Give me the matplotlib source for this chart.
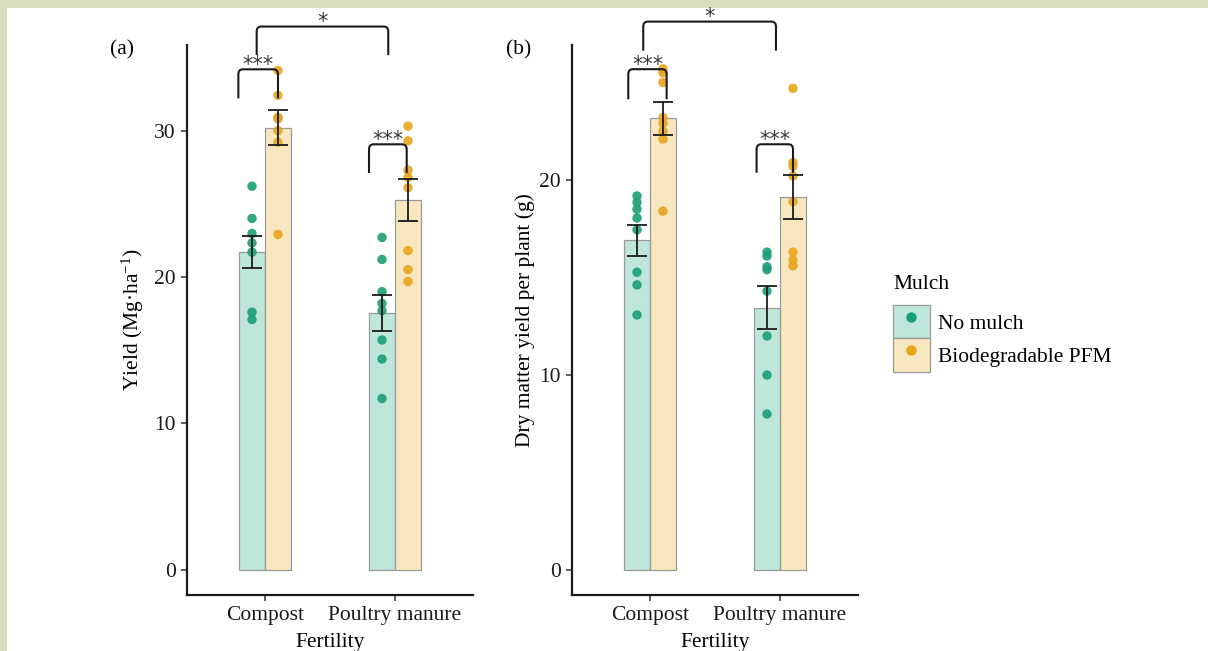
import matplotlib
matplotlib.use("Agg")
import matplotlib.pyplot as plt
import numpy as np
from matplotlib.patches import Rectangle, Patch, PathPatch
from matplotlib.lines import Line2D
from matplotlib.path import Path
from matplotlib.legend_handler import HandlerTuple

plt.rcParams['font.family'] = ['Liberation Serif', 'DejaVu Serif']
plt.rcParams['mathtext.fontset'] = 'custom'
plt.rcParams['mathtext.rm'] = 'Liberation Serif'
plt.rcParams['mathtext.it'] = 'Liberation Serif:italic'

# ---- data ----------------------------------------------------------------
fertility = ["Compost", "Poultry manure"]
mulch = ["No mulch", "Biodegradable PFM"]

# (a) Yield, Mg/ha : group means, standard errors and plot observations
yield_mean_nomulch = [21.7, 17.55]
yield_mean_pfm = [30.2, 25.25]
yield_se_nomulch = [1.1, 1.25]
yield_se_pfm = [1.2, 1.45]
yield_obs_compost_nomulch = [26.2, 24.0, 22.97, 22.33, 21.7, 17.6, 17.1]
yield_obs_compost_pfm = [34.1, 32.4, 30.9, 30.8, 30.0, 29.2, 22.9]
yield_obs_poultry_nomulch = [22.7, 21.2, 19.0, 18.2, 17.7, 15.7, 14.4, 11.7]
yield_obs_poultry_pfm = [30.3, 29.3, 27.3, 26.8, 26.1, 21.8, 20.5, 19.7]

# (b) Dry matter yield per plant, g
dm_mean_nomulch = [16.9, 13.45]
dm_mean_pfm = [23.16, 19.14]
dm_se_nomulch = [0.8, 1.11]
dm_se_pfm = [0.84, 1.13]
dm_obs_compost_nomulch = [19.18, 18.85, 18.5, 18.05, 17.45, 15.27, 14.62, 13.08]
dm_obs_compost_pfm = [25.7, 25.5, 25.0, 23.2, 22.9, 22.5, 22.1, 18.4]
dm_obs_poultry_nomulch = [16.3, 16.1, 15.55, 15.4, 14.3, 12.0, 10.0, 8.0]
dm_obs_poultry_pfm = [24.7, 20.9, 20.7, 20.2, 18.9, 16.3, 15.9, 15.6]

# ---- style ---------------------------------------------------------------
DOT_NM = "#1b9e77"
DOT_PF = "#e7a51c"
FILL_NM = "#bfe6da"
FILL_PF = "#f8e6be"
EDGE = "#9a9a9a"
FS = 15.5
BAR_W = 0.2

W, H = 1208, 651
fig = plt.figure(figsize=(W / 100, H / 100), dpi=100)
fig.patch.set_facecolor("white")

BAND = "#d8dfbf"
fig.add_artist(Rectangle((0, 1 - 8 / H), 1, 8 / H, transform=fig.transFigure,
                         facecolor=BAND, edgecolor="none", zorder=0))
fig.add_artist(Rectangle((0, 0), 7 / W, 1, transform=fig.transFigure,
                         facecolor=BAND, edgecolor="none", zorder=0))


def bracket(ax, x0, x1, y_top, y_leg, label, ry):
    rx = 0.035
    verts = [(x0, y_leg), (x0, y_top - ry), (x0, y_top), (x0 + rx, y_top),
             (x1 - rx, y_top), (x1, y_top), (x1, y_top - ry), (x1, y_leg)]
    codes = [Path.MOVETO, Path.LINETO, Path.CURVE3, Path.CURVE3,
             Path.LINETO, Path.CURVE3, Path.CURVE3, Path.LINETO]
    ax.add_patch(PathPatch(Path(verts, codes), fill=False, lw=1.5,
                           edgecolor="#1a1a1a", clip_on=False, zorder=5))
    ax.annotate(label, xy=((x0 + x1) / 2, y_top), xytext=(0, -1.2),
                textcoords="offset points", ha="center", va="baseline",
                fontsize=15, color="#3a3a3a", family="DejaVu Sans",
                annotation_clip=False, zorder=5)


def panel(ax, m_nm, m_pf, se_nm, se_pf, obs_nm, obs_pf, ylim, yticks):
    x = np.arange(1, len(fertility) + 1)
    ax.bar(x - BAR_W / 2, m_nm, width=BAR_W, color=FILL_NM, edgecolor=EDGE,
           linewidth=0.9, zorder=1)
    ax.bar(x + BAR_W / 2, m_pf, width=BAR_W, color=FILL_PF, edgecolor=EDGE,
           linewidth=0.9, zorder=1)
    for xi, pts in zip(x - BAR_W / 2, obs_nm):
        ax.scatter(np.full(len(pts), xi), pts, s=46, color=DOT_NM,
                   alpha=0.9, edgecolors="none", zorder=2)
    for xi, pts in zip(x + BAR_W / 2, obs_pf):
        ax.scatter(np.full(len(pts), xi), pts, s=46, color=DOT_PF,
                   alpha=0.9, edgecolors="none", zorder=2)
    ax.errorbar(x - BAR_W / 2, m_nm, yerr=se_nm, fmt="none", ecolor="#1a1a1a",
                elinewidth=1.3, capsize=7, capthick=1.3, zorder=3)
    ax.errorbar(x + BAR_W / 2, m_pf, yerr=se_pf, fmt="none", ecolor="#1a1a1a",
                elinewidth=1.3, capsize=7, capthick=1.3, zorder=3)
    ax.set_xlim(0.4, 2.6)
    ax.set_ylim(*ylim)
    ax.set_xticks(x)
    ax.set_xticklabels(fertility, fontsize=FS)
    ax.set_yticks(yticks)
    ax.set_yticklabels([str(t) for t in yticks], fontsize=FS)
    for s in ("top", "right"):
        ax.spines[s].set_visible(False)
    for s in ("left", "bottom"):
        ax.spines[s].set_linewidth(1.6)
        ax.spines[s].set_color("#1a1a1a")
    ax.tick_params(axis="both", direction="out", length=4, width=1.1,
                   color="#333333", pad=4, labelcolor="#1a1a1a")
    ax.set_xlabel("Fertility", fontsize=FS, labelpad=6)
    ax.set_facecolor("white")


ax_a = fig.add_axes([187 / W, 1 - 595 / H, 286 / W, 550 / H])
ax_b = fig.add_axes([572 / W, 1 - 595 / H, 286 / W, 550 / H])

panel(ax_a, yield_mean_nomulch, yield_mean_pfm, yield_se_nomulch, yield_se_pfm,
      [yield_obs_compost_nomulch, yield_obs_poultry_nomulch],
      [yield_obs_compost_pfm, yield_obs_poultry_pfm],
      (-1.71, 35.84), [0, 10, 20, 30])
ax_a.set_ylabel("Yield (Mg·ha$^{-1}$)", fontsize=FS, labelpad=6)

panel(ax_b, dm_mean_nomulch, dm_mean_pfm, dm_se_nomulch, dm_se_pfm,
      [dm_obs_compost_nomulch, dm_obs_poultry_nomulch],
      [dm_obs_compost_pfm, dm_obs_poultry_pfm],
      (-1.28, 26.92), [0, 10, 20])
ax_b.set_ylabel("Dry matter yield per plant (g)", fontsize=FS, labelpad=3)

# significance brackets
bracket(ax_a, 0.795, 1.10, 34.18, 32.2, "***", 0.35)
bracket(ax_a, 0.936, 1.948, 37.1, 35.15, "*", 0.35)
bracket(ax_a, 1.80, 2.09, 29.06, 27.1, "***", 0.35)

bracket(ax_b, 0.833, 1.128, 25.68, 24.14, "***", 0.26)
bracket(ax_b, 0.948, 1.969, 28.12, 26.63, "*", 0.26)
bracket(ax_b, 1.82, 2.10, 21.83, 20.37, "***", 0.26)

fig.text(122 / W, 1 - 50 / H, "(a)", fontsize=FS, ha="center", va="center")
fig.text(519 / W, 1 - 50 / H, "(b)", fontsize=FS, ha="center", va="center")

# legend
handles = [
    (Patch(facecolor=FILL_NM, edgecolor=EDGE, linewidth=0.9),
     Line2D([], [], ls="none", marker="o", ms=6.5, color=DOT_NM)),
    (Patch(facecolor=FILL_PF, edgecolor=EDGE, linewidth=0.9),
     Line2D([], [], ls="none", marker="o", ms=6.5, color=DOT_PF)),
]
leg = fig.legend(handles, mulch, title="Mulch", loc="upper left",
                 bbox_to_anchor=(893 / W, 1 - 275 / H), frameon=False,
                 fontsize=FS, title_fontsize=FS, handlelength=1.7,
                 handleheight=2.0, labelspacing=0.0, handletextpad=0.4,
                 borderpad=0, borderaxespad=0, alignment="left",
                 handler_map={tuple: HandlerTuple(ndivide=1, pad=0)})
leg._legend_box.sep = 8

fig.savefig("out.png", dpi=100)
